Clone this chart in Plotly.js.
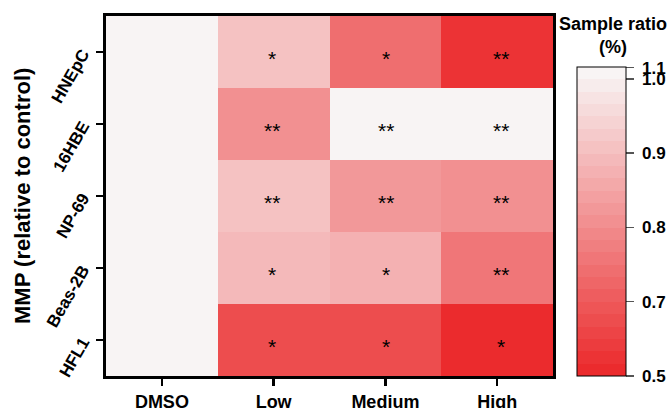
<!DOCTYPE html>
<html><head><meta charset="utf-8">
<script src="https://cdn.plot.ly/plotly-3.0.1.min.js"></script>
<style>body{margin:0;background:#fff}#chart{width:671px;height:408px}</style>
</head><body><div id="chart"></div>
<script>
const treatments = ['DMSO','Low','Medium','High'];
const cellLines = ['HNEpC','16HBE','NP-69','Beas-2B','HFL1'];
const rowHNEpC  = [1.0, 0.915, 0.742, 0.620];
const row16HBE  = [1.0, 0.814, 1.0, 1.0];
const rowNP69   = [1.0, 0.902, 0.829, 0.810];
const rowBeas2B = [1.0, 0.897, 0.875, 0.762];
const rowHFL1   = [1.0, 0.675, 0.679, 0.602];
const sigHNEpC  = ['', '*', '*', '**'];
const sig16HBE  = ['', '**', '**', '**'];
const sigNP69   = ['', '**', '**', '**'];
const sigBeas2B = ['', '*', '*', '**'];
const sigHFL1   = ['', '*', '*', '*'];
const cbTickVals = [0.6, 0.7, 0.8, 0.9, 1.0, 1.015];
const cbTickText = ['0.5', '0.7', '0.8', '0.9', '1.0', '1.1'];

const z = [rowHNEpC, row16HBE, rowNP69, rowBeas2B, rowHFL1];
const sig = [sigHNEpC, sig16HBE, sigNP69, sigBeas2B, sigHFL1];

// stepped colorscale (red -> near white)
const nSteps = 25;
const c0 = [235, 43, 45], c1 = [248, 244, 244];
const cs = [];
for (let i = 0; i < nSteps; i++) {
  const t = i / (nSteps - 1);
  const col = 'rgb(' + c0.map((v, k) => Math.round(v + (c1[k] - v) * t)).join(',') + ')';
  cs.push([i / nSteps, col]);
  cs.push([(i + 1) / nSteps, col]);
}

const font = 'Arial, "Liberation Sans", sans-serif';
const annotations = [];
const xs = [0, -2, 1, 4];
for (let r = 0; r < cellLines.length; r++) {
  for (let c = 0; c < treatments.length; c++) {
    if (!sig[r][c]) continue;
    annotations.push({x: treatments[c], y: cellLines[r], text: sig[r][c], showarrow: false,
      xshift: xs[c], yshift: -6, font: {family: font, size: 21, color: '#000'}});
  }
}
annotations.push({xref: 'paper', yref: 'paper', x: 1.135, y: 1.012, xanchor: 'center', yanchor: 'top',
  text: '<b>Sample ratio</b><br><b>(%)</b>', showarrow: false, align: 'center',
  font: {family: font, size: 18, color: '#000'}});
annotations.push({xref: 'paper', yref: 'paper', x: -0.188, y: 0.5, xanchor: 'center', yanchor: 'middle',
  textangle: -90, text: '<b>MMP (relative to control)</b>', showarrow: false,
  font: {family: font, size: 22, color: '#000'}});

const trace = {
  type: 'heatmap', x: treatments, y: cellLines, z: z,
  zmin: 0.6, zmax: 1.016, colorscale: cs, xgap: 0, ygap: 0, hoverinfo: 'none',
  colorbar: {x: 1.054, xanchor: 'left', xpad: 0, y: 0, yanchor: 'bottom', ypad: 0, len: 309, lenmode: 'pixels',
    thickness: 49, outlinewidth: 1, outlinecolor: '#000',
    tickvals: cbTickVals, ticktext: cbTickText.map(t => '\u00a0' + t), ticks: 'outside', ticklen: 8, tickwidth: 1.5, tickcolor: '#555',
    tickfont: {family: font, size: 17, color: '#000', weight: 'bold'}}
};

const layout = {
  width: 671, height: 408,
  margin: {l: 106, r: 118, t: 16, b: 32, autoexpand: false},
  paper_bgcolor: '#fff', plot_bgcolor: '#fff',
  xaxis: {type: 'category', showline: true, mirror: true, linewidth: 3, linecolor: '#000',
    ticks: 'outside', ticklen: 7, tickwidth: 2.5, tickcolor: '#000',
    tickfont: {family: font, size: 18, color: '#000', weight: 'bold'}, showgrid: false, zeroline: false},
  yaxis: {type: 'category', autorange: 'reversed', showline: true, mirror: true, linewidth: 3, linecolor: '#000',
    ticks: 'outside', ticklen: 7, tickwidth: 2.5, tickcolor: '#000', tickangle: -60, ticklabelstandoff: 10,
    tickfont: {family: font, size: 17, color: '#000', weight: 'bold'}, showgrid: false, zeroline: false},
  annotations: annotations
};

Plotly.newPlot('chart', [trace], layout, {displayModeBar: false, staticPlot: true});
</script></body></html>
